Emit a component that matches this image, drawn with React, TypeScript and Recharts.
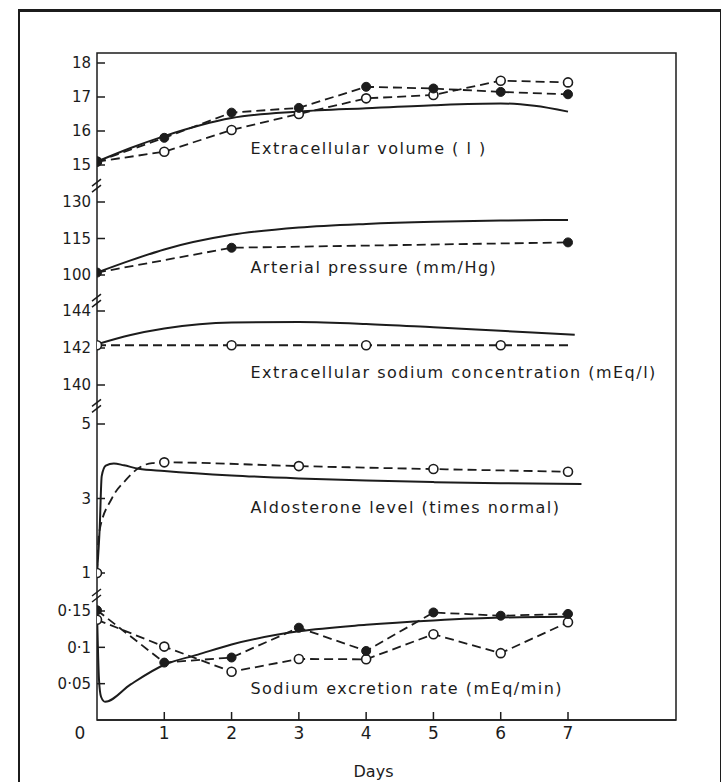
import React from 'react';
import { LineChart, Line, XAxis, YAxis, ReferenceDot, ReferenceArea } from 'recharts';

// ---------------- data ----------------
const dayTicks = [0, 1, 2, 3, 4, 5, 6, 7];

// Extracellular volume (l)
const ecvDays = [0, 1, 2, 3, 4, 5, 6, 7];
const ecvFilled = [15.1, 15.8, 16.54, 16.68, 17.3, 17.25, 17.15, 17.08];
const ecvOpen = [15.1, 15.39, 16.03, 16.5, 16.96, 17.06, 17.48, 17.43];
const ecvCurveDays = [0, 0.5, 1, 2, 3, 4, 5, 6, 6.5, 7];
const ecvCurve = [15.1, 15.5, 15.85, 16.38, 16.57, 16.67, 16.76, 16.81, 16.74, 16.57];
const ecvTicks = [15, 16, 17, 18];

// Arterial pressure (mm/Hg)
const apDays = [0, 2, 7];
const apFilled = [101, 111.2, 113.4];
const apCurveDays = [0, 0.5, 1, 2, 3, 4, 5, 6, 7];
const apCurve = [101, 106, 110.5, 116.5, 119.5, 121, 121.9, 122.4, 122.6];
const apTicks = [100, 115, 130];

// Extracellular sodium concentration (mEq/l)
const naLineDays = [0, 2, 4, 6, 7];
const naLine = [142.15, 142.15, 142.15, 142.15, 142.15];
const naMarkDays = [0, 2, 4, 6];
const naMarks = [142.15, 142.15, 142.15, 142.15];
const naCurveDays = [0, 0.5, 1, 2, 3, 4, 5, 6, 7.1];
const naCurve = [142.2, 142.7, 143.05, 143.38, 143.4, 143.3, 143.12, 142.93, 142.72];
const naTicks = [140, 142, 144];

// Aldosterone level (times normal)
const aldoLineDays = [0, 0.03, 0.22, 0.43, 0.62, 0.82, 1, 3, 5, 7];
const aldoLine = [1, 2.07, 3.0, 3.5, 3.82, 3.95, 3.97, 3.87, 3.79, 3.72];
const aldoMarkDays = [0, 1, 3, 5, 7];
const aldoMarks = [1, 3.97, 3.87, 3.79, 3.72];
const aldoCurveDays = [0, 0.04, 0.07, 0.13, 0.25, 0.4, 0.62, 1, 2, 3, 4, 5, 6, 7.2];
const aldoCurve = [1, 2.2, 3.6, 3.88, 3.94, 3.89, 3.8, 3.74, 3.62, 3.54, 3.48, 3.44, 3.41, 3.39];
const aldoTicks = [1, 3, 5];

// Sodium excretion rate (mEq/min)
const exDays = [0, 1, 2, 3, 4, 5, 6, 7];
const exFilled = [0.151, 0.079, 0.086, 0.127, 0.095, 0.148, 0.1435, 0.146];
const exOpen = [0.138, 0.101, 0.0665, 0.084, 0.0835, 0.118, 0.092, 0.1345];
const exCurveDays = [0, 0.03, 0.06, 0.12, 0.5, 1, 1.5, 2, 3, 4, 5, 6, 7];
const exCurve = [0.15, 0.055, 0.032, 0.025, 0.049, 0.076, 0.09, 0.104, 0.122, 0.131, 0.137, 0.141, 0.142];
const exTicks = [0.05, 0.1, 0.15];

const panelLabels = [
  'Extracellular volume ( l )',
  'Arterial pressure (mm/Hg)',
  'Extracellular sodium concentration (mEq/l)',
  'Aldosterone level (times normal)',
  'Sodium excretion rate (mEq/min)',
];

// ---------------- layout ----------------
const W = 723;
const H = 782;
const PLOT_LEFT = 97;
const PLOT_RIGHT = 676;
const PLOT_TOP = 53;
const PLOT_BOTTOM = 720;
const INK = '#1c1c1c';
const FONT = '"DejaVu Sans", Verdana, sans-serif';

const xMax = (7 * (PLOT_RIGHT - PLOT_LEFT)) / (568 - PLOT_LEFT);

// domain of a panel axis so that v1 sits at pixel y1 and v2 at pixel y2
function domainFrom(v1: number, y1: number, v2: number, y2: number): [number, number] {
  const k = (v2 - v1) / (y1 - y2);
  return [v1 - (PLOT_BOTTOM - y1) * k, v2 + (y2 - PLOT_TOP) * k];
}

const ecvDomain = domainFrom(15, 165, 18, 63);
const apDomain = domainFrom(100, 275, 130, 202);
const naDomain = domainFrom(140, 385, 144, 311);
const aldoDomain = domainFrom(1, 573, 5, 424);
const exDomain = domainFrom(0, 720, 0.15, 611);

const pts = (xs: number[], ys: number[]) => xs.map((d, i) => ({ day: d, v: ys[i] }));

const filledDot = { r: 4.5, fill: INK, stroke: INK, strokeWidth: 1, strokeDasharray: 'none' };
const openDot = { r: 4.5, fill: '#fff', stroke: INK, strokeWidth: 1.6, strokeDasharray: 'none' };
const DASH = '9 5';

const labelShape = (text: string) => (p: any) => (
  <text x={p.cx} y={p.cy} dy="0.35em" fontSize={16} letterSpacing={1.5} fontFamily={FONT} fill={INK}>
    {text}
  </text>
);

const BreakMark = (p: any) => (
  <g stroke={INK} strokeWidth={1.5}>
    <line x1={p.cx - 5} y1={p.cy + 1} x2={p.cx + 4} y2={p.cy - 6} />
    <line x1={p.cx - 5} y1={p.cy + 7} x2={p.cx + 4} y2={p.cy} />
  </g>
);

// inward y tick with its label on the left of the axis
const yTickShape = (label: string) => (p: any) => (
  <g>
    <line x1={p.cx} y1={p.cy} x2={p.cx + 8} y2={p.cy} stroke={INK} strokeWidth={1.5} />
    <text x={p.cx - 6} y={p.cy} dy="0.36em" textAnchor="end" fontSize={15} fontFamily={FONT} fill={INK}>
      {label}
    </text>
  </g>
);

// inward x tick
const XTickMark = (p: any) => (
  <line x1={p.cx} y1={p.cy} x2={p.cx} y2={p.cy - 8} stroke={INK} strokeWidth={1.5} />
);

const XTick = (p: any) => (
  <text
    x={p.payload.value === 0 ? p.x - 17 : p.x}
    y={p.y}
    dy="0.71em"
    textAnchor="middle"
    fontSize={17}
    fontFamily={FONT}
    fill={INK}
  >
    {p.payload.value}
  </text>
);

const fmt = (id: string, v: number) => (id === 'ex' ? String(v).replace('.', '·') : String(v));

const axes = [
  { id: 'ecv', domain: ecvDomain, ticks: ecvTicks },
  { id: 'ap', domain: apDomain, ticks: apTicks },
  { id: 'na', domain: naDomain, ticks: naTicks },
  { id: 'aldo', domain: aldoDomain, ticks: aldoTicks },
  { id: 'ex', domain: exDomain, ticks: exTicks },
];

const labelPos = [
  { id: 'ecv', y: 15.5 },
  { id: 'ap', y: 103.3 },
  { id: 'na', y: 140.7 },
  { id: 'aldo', y: 2.77 },
  { id: 'ex', y: 0.044 },
];

const breaks = [
  { id: 'ecv', y: 14.41 },
  { id: 'ap', y: 89.7 },
  { id: 'na', y: 138.9 },
  { id: 'aldo', y: 0.41 },
];

const solid = (id: string, xs: number[], ys: number[]) => (
  <Line
    key={'s-' + id}
    xAxisId="x"
    yAxisId={id}
    data={pts(xs, ys)}
    dataKey="v"
    type="monotone"
    stroke={INK}
    strokeWidth={2}
    dot={false}
    isAnimationActive={false}
  />
);

const dashed = (key: string, id: string, xs: number[], ys: number[], dot: any, curve = 'linear') => (
  <Line
    key={key}
    xAxisId="x"
    yAxisId={id}
    data={pts(xs, ys)}
    dataKey="v"
    type={curve as any}
    stroke={INK}
    strokeWidth={1.8}
    strokeDasharray={DASH}
    dot={dot}
    isAnimationActive={false}
  />
);

const markers = (key: string, id: string, xs: number[], ys: number[], dot: any) => (
  <Line
    key={key}
    xAxisId="x"
    yAxisId={id}
    data={pts(xs, ys)}
    dataKey="v"
    stroke="none"
    dot={dot}
    isAnimationActive={false}
  />
);

export default function App() {
  return (
    <div style={{ position: 'absolute', left: 0, top: 0, width: W, height: H, background: '#fff', overflow: 'hidden' }}>
      <div
        style={{
          position: 'absolute',
          left: 18,
          top: 9,
          width: 703,
          height: 790,
          borderTop: `3px solid ${INK}`,
          borderLeft: `2px solid ${INK}`,
          borderRight: `1px solid ${INK}`,
          boxSizing: 'border-box',
        }}
      />
      <div style={{ position: 'absolute', left: 0, top: 0 }}>
        <LineChart
          width={W}
          height={H}
          margin={{ top: PLOT_TOP, right: W - PLOT_RIGHT, bottom: 0, left: PLOT_LEFT }}
        >
          <XAxis
            xAxisId="x"
            dataKey="day"
            type="number"
            domain={[0, xMax]}
            allowDataOverflow
            ticks={dayTicks}
            interval={0}
            height={H - PLOT_BOTTOM}
            tickSize={0}
            tickMargin={7}
            axisLine={{ stroke: INK, strokeWidth: 1.5 }}
            tickLine={false}
            tick={XTick}
            label={{ value: 'Days', position: 'insideBottom', offset: 5, dx: -13, fontSize: 16, fill: INK, fontFamily: FONT }}
          />
          {axes.map((a) => (
            <YAxis key={a.id} yAxisId={a.id} type="number" domain={a.domain} allowDataOverflow hide />
          ))}

          <ReferenceArea
            xAxisId="x"
            yAxisId="ex"
            x1={0}
            x2={xMax}
            y1={exDomain[0]}
            y2={exDomain[1]}
            fill="none"
            stroke={INK}
            strokeWidth={1.5}
            ifOverflow="visible"
          />

          {axes.map((a) =>
            a.ticks.map((t) => (
              <ReferenceDot key={'yt-' + a.id + t} xAxisId="x" yAxisId={a.id} x={0} y={t} r={0}
                shape={yTickShape(fmt(a.id, t))} ifOverflow="visible" />
            ))
          )}
          {dayTicks.filter((d) => d > 0).map((d) => (
            <ReferenceDot key={'xt-' + d} xAxisId="x" yAxisId="ex" x={d} y={0} r={0}
              shape={XTickMark} ifOverflow="visible" />
          ))}

          {solid('ecv', ecvCurveDays, ecvCurve)}
          {solid('ap', apCurveDays, apCurve)}
          {solid('na', naCurveDays, naCurve)}
          {solid('aldo', aldoCurveDays, aldoCurve)}
          {solid('ex', exCurveDays, exCurve)}

          {dashed('ecv-open', 'ecv', ecvDays, ecvOpen, openDot)}
          {dashed('ecv-filled', 'ecv', ecvDays, ecvFilled, filledDot)}
          {dashed('ap-filled', 'ap', apDays, apFilled, filledDot)}
          {dashed('na-open', 'na', naLineDays, naLine, false)}
          {markers('na-marks', 'na', naMarkDays, naMarks, openDot)}
          {dashed('aldo-open', 'aldo', aldoLineDays, aldoLine, false, 'monotone')}
          {markers('aldo-marks', 'aldo', aldoMarkDays, aldoMarks, openDot)}
          {dashed('ex-open', 'ex', exDays, exOpen, openDot)}
          {dashed('ex-filled', 'ex', exDays, exFilled, filledDot)}

          {labelPos.map((l, i) => (
            <ReferenceDot key={'lab-' + l.id} xAxisId="x" yAxisId={l.id} x={2.28} y={l.y} r={0}
              shape={labelShape(panelLabels[i])} ifOverflow="visible" />
          ))}
          {breaks.map((b) => (
            <ReferenceDot key={'br-' + b.id} xAxisId="x" yAxisId={b.id} x={0} y={b.y} r={0}
              shape={BreakMark} ifOverflow="visible" />
          ))}
        </LineChart>
      </div>
    </div>
  );
}
